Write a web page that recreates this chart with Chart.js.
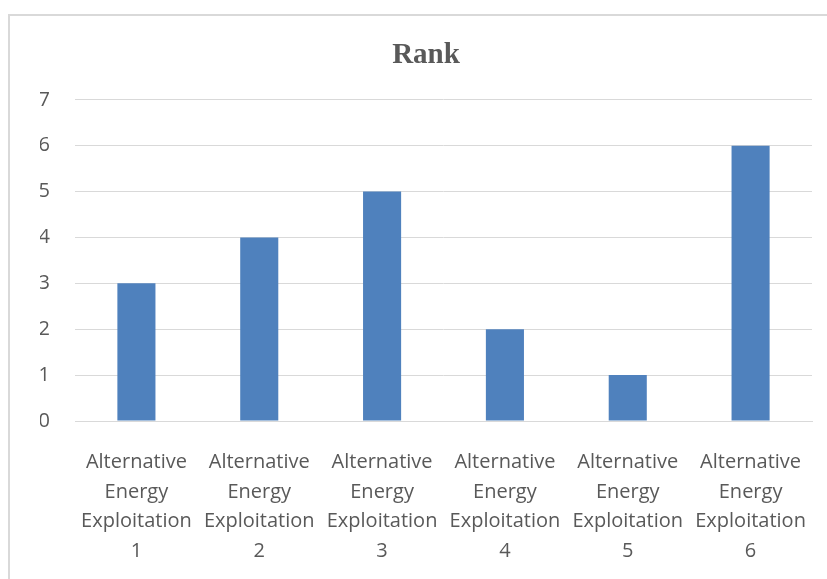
<!DOCTYPE html>
<html>
<head>
<meta charset="utf-8">
<script src="https://cdn.jsdelivr.net/npm/chart.js@4.4.0/dist/chart.umd.min.js"></script>
<style>
  html, body { margin: 0; padding: 0; background: #ffffff; overflow: hidden; }
  #wrap { position: relative; width: 827px; height: 579px; }
  #frame {
    position: absolute; left: 8px; top: 14px; width: 900px; height: 700px;
    border-left: 2px solid #d9d9d9; border-top: 2px solid #d9d9d9; box-sizing: border-box;
    pointer-events: none;
  }
  canvas { position: absolute; left: 0; top: 0; }
</style>
</head>
<body>
<div id="wrap">
  <canvas id="chart" width="827" height="579"></canvas>
  <div id="frame"></div>
</div>
<script>
const chartTitle = 'Rank';
const categories = [
  ['Alternative', 'Energy', 'Exploitation', '1'],
  ['Alternative', 'Energy', 'Exploitation', '2'],
  ['Alternative', 'Energy', 'Exploitation', '3'],
  ['Alternative', 'Energy', 'Exploitation', '4'],
  ['Alternative', 'Energy', 'Exploitation', '5'],
  ['Alternative', 'Energy', 'Exploitation', '6']
];
const rankValues = [3, 4, 5, 2, 1, 6];
const yMin = 0;
const yMax = 7;
const yStep = 1;

const textColor = '#595959';
const gridColor = '#d9d9d9';
const barColor = '#4f81bd';
const labelFont = "'Open Sans', 'Liberation Sans', sans-serif";

new Chart(document.getElementById('chart'), {
  type: 'bar',
  data: {
    labels: categories,
    datasets: [{
      label: chartTitle,
      data: rankValues,
      backgroundColor: barColor,
      borderWidth: 0,
      categoryPercentage: 1,
      barPercentage: 0.31
    }]
  },
  options: {
    responsive: false,
    animation: false,
    layout: { padding: { left: 40, right: 15, top: 0, bottom: 0 } },
    plugins: {
      legend: { display: false },
      tooltip: { enabled: false },
      title: {
        display: true,
        text: chartTitle,
        color: textColor,
        font: { family: "'Liberation Serif', 'Times New Roman', serif", size: 29, weight: 'bold', lineHeight: 1.2 },
        padding: { top: 38, bottom: 27 }
      }
    },
    scales: {
      x: {
        grid: { display: false, drawTicks: false },
        border: { display: true, color: gridColor, width: 1 },
        ticks: {
          color: textColor,
          font: { family: labelFont, size: 20, lineHeight: 1.47 },
          padding: 27,
          maxRotation: 0,
          autoSkip: false
        },
        afterFit: (axis) => {
          axis.height = 158;
          axis.paddingLeft = 0;
          axis.paddingRight = 0;
        }
      },
      y: {
        min: yMin,
        max: yMax,
        grid: { color: gridColor, lineWidth: 1, drawTicks: false },
        border: { display: false },
        ticks: {
          stepSize: yStep,
          color: textColor,
          font: { family: labelFont, size: 20 },
          padding: 25
        },
        afterFit: (axis) => { axis.width = 35; }
      }
    }
  }
});
</script>
</body>
</html>
